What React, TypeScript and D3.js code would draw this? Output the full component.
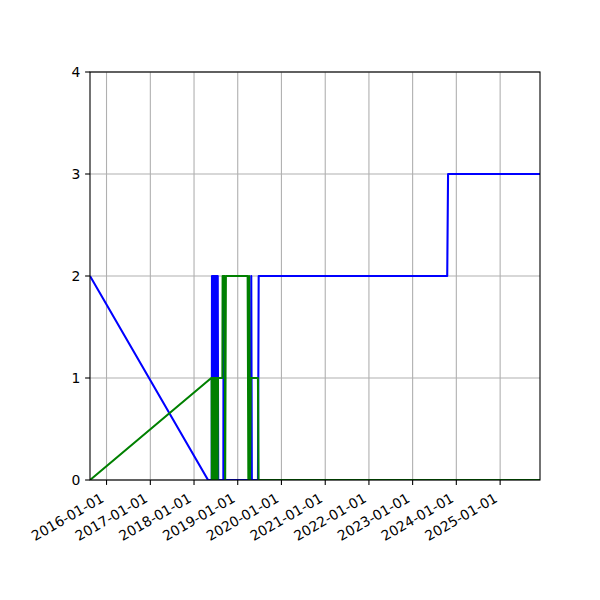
import React from "react";
import * as d3 from "d3";

const blueDates = [
  "2015-08-16", "2018-04-28", "2018-05-29", "2018-05-31", "2018-06-03", "2018-06-06",
  "2018-06-09", "2018-06-12", "2018-06-15", "2018-06-18", "2018-06-21", "2018-06-24",
  "2018-06-27", "2018-06-30", "2018-07-03", "2018-07-06", "2018-07-09", "2018-07-12",
  "2018-07-15", "2018-07-18", "2018-07-22", "2018-09-03", "2018-09-05", "2018-09-07",
  "2019-04-20", "2019-04-24", "2019-04-29", "2019-06-19", "2019-06-25", "2023-10-17",
  "2023-10-24", "2025-11-30",
];
const blueValues = [
  2, 0, 0, 2, 0, 2,
  0, 2, 0, 2, 0, 2,
  0, 2, 0, 2, 0, 2,
  0, 2, 0, 0, 2, 0,
  0, 2, 0, 0, 2, 2,
  3, 3,
];

const greenDates = [
  "2015-08-16", "2018-05-25", "2018-05-28", "2018-05-30", "2018-06-02", "2018-06-05",
  "2018-06-08", "2018-06-11", "2018-06-14", "2018-06-17", "2018-06-20", "2018-06-23",
  "2018-06-26", "2018-06-29", "2018-07-02", "2018-07-05", "2018-07-08", "2018-07-11",
  "2018-07-14", "2018-07-17", "2018-07-20", "2018-07-24", "2018-08-26", "2018-08-28",
  "2018-09-14", "2018-09-18", "2018-09-24", "2019-03-25", "2019-03-31", "2019-04-06",
  "2019-04-14", "2019-04-20", "2019-06-19", "2019-06-24", "2025-11-30",
];
const greenValues = [
  0, 1, 1, 0, 1, 0,
  1, 0, 1, 0, 1, 0,
  1, 0, 1, 0, 1, 0,
  1, 0, 1, 1, 1, 2,
  2, 0, 2, 2, 0, 2,
  0, 1, 1, 0, 0,
];

const yTicks = [0, 1, 2, 3, 4];

const W = 600, H = 600;
const left = 90, right = 540, top = 72, bottom = 480;

const parse = d3.utcParse("%Y-%m-%d");
const fmt = d3.utcFormat("%Y-%m-%d");

export default function App() {
  const blue = blueDates.map((d, i) => ({ date: parse(d)!, value: blueValues[i] }));
  const green = greenDates.map((d, i) => ({ date: parse(d)!, value: greenValues[i] }));
  const all = [...blue, ...green];
  const ext = d3.extent(all, (d) => d.date) as [Date, Date];
  const x = d3.scaleUtc().domain(ext).range([left, right]);
  const y = d3.scaleLinear().domain([0, 4]).range([bottom, top]);
  const line = d3
    .line<{ date: Date; value: number }>()
    .x((d) => x(d.date))
    .y((d) => y(d.value));
  const xTicks = x.ticks(d3.utcYear.every(1)!);
  const font = "DejaVu Sans";
  const fs = 13.9;
  return (
    <svg
      width={W}
      height={H}
      style={{ position: "absolute", left: 0, top: 0, background: "#fff" }}
      fontFamily={font}
    >
      <rect x={0} y={0} width={W} height={H} fill="#fff" />
      <defs>
        <clipPath id="clip">
          <rect x={left} y={top} width={right - left} height={bottom - top} />
        </clipPath>
      </defs>
      {xTicks.map((t, i) => (
        <line key={"gx" + i} x1={x(t)} x2={x(t)} y1={top} y2={bottom} stroke="#b0b0b0" strokeWidth={1.1} />
      ))}
      {yTicks.map((t, i) => (
        <line key={"gy" + i} x1={left} x2={right} y1={y(t)} y2={y(t)} stroke="#b0b0b0" strokeWidth={1.1} />
      ))}
      <g clipPath="url(#clip)">
        <path d={line(blue) || ""} fill="none" stroke="#0000ff" strokeWidth={2.08} strokeLinejoin="round" />
        <path d={line(green) || ""} fill="none" stroke="#008000" strokeWidth={2.08} strokeLinejoin="round" />
      </g>
      <rect x={left} y={top} width={right - left} height={bottom - top} fill="none" stroke="#000" strokeWidth={1.1} />
      {xTicks.map((t, i) => (
        <g key={"xt" + i}>
          <line x1={x(t)} x2={x(t)} y1={bottom} y2={bottom + 4.9} stroke="#000" strokeWidth={1.1} />
          <text
            transform={`translate(${x(t) - 1.6},${501}) rotate(-30)`}
            textAnchor="end"
            fontSize={fs}
            fill="#000"
          >
            {fmt(t)}
          </text>
        </g>
      ))}
      {yTicks.map((t, i) => (
        <g key={"yt" + i}>
          <line x1={left - 4.9} x2={left} y1={y(t)} y2={y(t)} stroke="#000" strokeWidth={1.1} />
          <text x={left - 9.7} y={y(t)} dy="0.36em" textAnchor="end" fontSize={fs} fill="#000">
            {t}
          </text>
        </g>
      ))}
    </svg>
  );
}
